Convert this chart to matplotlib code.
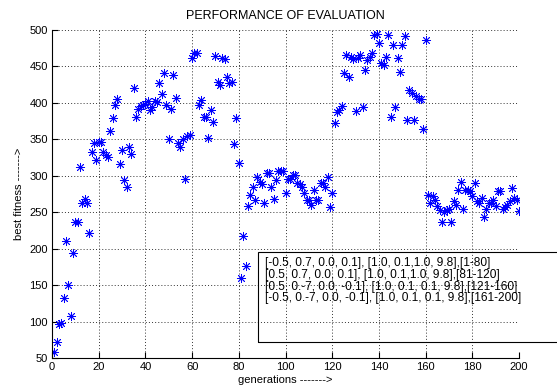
import numpy as np
import matplotlib.pyplot as plt
from matplotlib.patches import Rectangle

# best fitness per generation, one array per block
fitness_1_80 = [58, 72, 96, 98, 133, 210, 150, 108, 194, 237,
                237, 312, 262, 268, 262, 222, 332, 345, 321, 346,
                346, 332, 328, 326, 361, 379, 397, 405, 316, 336,
                294, 285, 339, 330, 421, 380, 391, 396, 397, 399,
                402, 390, 394, 402, 401, 427, 412, 441, 397, 350,
                391, 438, 407, 345, 340, 350, 295, 354, 356, 461,
                468, 469, 397, 404, 380, 381, 352, 390, 374, 464,
                428, 424, 462, 460, 436, 427, 428, 343, 379, 318]
fitness_81_120 = [160, 218, 176, 258, 274, 284, 267, 299, 291, 289,
                  263, 304, 304, 285, 268, 294, 306, 306, 306, 276,
                  296, 295, 301, 301, 290, 289, 285, 276, 267, 267,
                  260, 281, 267, 267, 290, 290, 285, 298, 257, 276]
fitness_121_160 = [372, 388, 390, 396, 441, 466, 436, 463, 460, 389,
                   461, 466, 394, 445, 459, 463, 468, 493, 495, 482,
                   455, 452, 463, 493, 381, 479, 394, 461, 443, 479,
                   492, 377, 418, 413, 377, 410, 406, 405, 364, 486]
fitness_161_200 = [274, 263, 272, 267, 258, 253, 237, 250, 253, 254,
                   236, 265, 260, 281, 292, 254, 280, 280, 279, 272,
                   290, 265, 263, 270, 244, 255, 263, 263, 267, 258,
                   279, 279, 255, 257, 260, 265, 283, 269, 267, 251]

x_ticks = list(range(0, 201, 20))
y_ticks = list(range(50, 501, 50))

legend_lines = [
    "[-0.5, 0.7, 0.0, 0.1], [1.0, 0.1,1.0, 9.8],[1-80]",
    "[0.5, 0.7, 0.0, 0.1], [1.0, 0.1,1.0, 9.8],[81-120]",
    "[0.5, 0.-7, 0.0, -0.1], [1.0, 0.1, 0.1, 9.8],[121-160]",
    "[-0.5, 0.-7, 0.0, -0.1], [1.0, 0.1, 0.1, 9.8],[161-200]",
]

plt.rcParams['font.family'] = ['Liberation Sans', 'DejaVu Sans']

W, H = 557, 392
fig = plt.figure(figsize=(W / 100, H / 100), dpi=100)
fig.patch.set_facecolor('white')
ax = fig.add_axes([52 / W, 1 - 358 / H, (519 - 52) / W, (358 - 30) / H])

fitness = np.concatenate([fitness_1_80, fitness_81_120,
                          fitness_121_160, fitness_161_200])
gens = np.arange(1, len(fitness) + 1)

ax.plot(gens, fitness, linestyle='none', marker=(8, 2, 0), markersize=6.5,
        markeredgecolor='blue', markeredgewidth=0.6, color='blue')

ax.set_xlim(0, 200)
ax.set_ylim(50, 500)
ax.set_xticks(x_ticks)
ax.set_yticks(y_ticks)
ax.tick_params(direction='in', length=4, labelsize=8, pad=3)
ax.grid(True, linestyle=(0, (1, 2.2)), color='0.2', linewidth=0.7)
ax.spines['top'].set_visible(False)
ax.spines['right'].set_visible(False)
for s in ('left', 'bottom'):
    ax.spines[s].set_linewidth(0.8)

ax.set_title('PERFORMANCE OF EVALUATION', fontsize=9, pad=8)
ax.set_xlabel('generations ------->', fontsize=8, labelpad=2)
ax.set_ylabel('best fitness ------->', fontsize=8, labelpad=4)

# text box in the lower right, it runs off the right edge of the figure
fig.patches.append(Rectangle((258 / W, 1 - 342 / H), 400 / W, 90 / H,
                             transform=fig.transFigure, fill=False,
                             edgecolor='black', linewidth=0.8))
for i, line in enumerate(legend_lines):
    fig.text(265 / W, 1 - (263 + i * 11.8) / H, line, fontsize=8.6,
             va='center', ha='left')

fig.savefig('out.png', dpi=100, facecolor='white')
